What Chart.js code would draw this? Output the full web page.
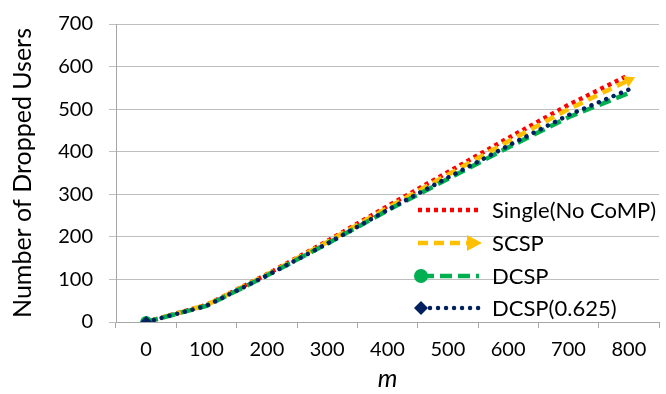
<!DOCTYPE html>
<html>
<head>
<meta charset="utf-8">
<script src="https://cdn.jsdelivr.net/npm/chart.js@4.4.1/dist/chart.umd.min.js"></script>
<style>
  html, body { margin: 0; padding: 0; background: #fff; }
  #wrap { width: 666px; height: 394px; }
</style>
</head>
<body>
<div id="wrap"><canvas id="chart" width="666" height="394"></canvas></div>
<script>
// values
const mLabels = ['0', '100', '200', '300', '400', '500', '600', '700', '800'];
const singleNoComp = [0, 40, 112, 190, 272, 352, 432, 510, 580];
const scsp = [0, 40, 111, 188, 268, 346, 424, 500, 568];
const dcsp = [0, 38, 109, 184, 262, 336, 410, 481, 538];
const dcsp0625 = [0, 38, 109, 184, 263, 339, 414, 486, 546];
const yTicks = [0, 100, 200, 300, 400, 500, 600, 700];

const FONT = 'Lato, "Open Sans", sans-serif';

function firstOnly(arr, r) { return arr.map((v, i) => i === 0 ? r : 0); }
function lastOnly(arr, r) { return arr.map((v, i) => i === arr.length - 1 ? r : 0); }

// legend drawn by hand so the line samples look like the plot lines
const legendPlugin = {
    id: 'sampleLegend',
    afterDraw(chart) {
        const ctx = chart.ctx;
        const x0 = 418, x1 = 479, tx = 492;
        const rows = [210, 243, 276, 308];
        chart.data.datasets.forEach((ds, i) => {
            const y = rows[i];
            ctx.save();
            ctx.strokeStyle = ds.borderColor;
            ctx.lineWidth = ds.borderWidth;
            ctx.lineCap = ds.borderCapStyle || 'butt';
            ctx.setLineDash(ds.borderDash || []);
            ctx.beginPath();
            ctx.moveTo(ds.legendMarker === 'circle' || ds.legendMarker === 'diamond' ? x0 + 4 : x0, y);
            ctx.lineTo(ds.legendMarker === 'arrow' ? x1 - 10 : x1, y);
            ctx.stroke();
            ctx.setLineDash([]);
            ctx.fillStyle = ds.borderColor;
            if (ds.legendMarker === 'circle') {
                ctx.beginPath();
                ctx.arc(x0 + 3, y, 7, 0, Math.PI * 2);
                ctx.fill();
            } else if (ds.legendMarker === 'diamond') {
                ctx.beginPath();
                ctx.moveTo(x0 + 3, y - 7);
                ctx.lineTo(x0 + 10, y);
                ctx.lineTo(x0 + 3, y + 7);
                ctx.lineTo(x0 - 4, y);
                ctx.closePath();
                ctx.fill();
            } else if (ds.legendMarker === 'arrow') {
                ctx.beginPath();
                ctx.moveTo(x1 + 3, y);
                ctx.lineTo(x1 - 12, y - 8);
                ctx.lineTo(x1 - 12, y + 8);
                ctx.closePath();
                ctx.fill();
            }
            ctx.fillStyle = '#000';
            ctx.font = '22px ' + FONT;
            ctx.textAlign = 'left';
            ctx.textBaseline = 'middle';
            ctx.fillText(ds.label, tx, y + 1);
            ctx.restore();
        });
    }
};

new Chart(document.getElementById('chart').getContext('2d'), {
    type: 'line',
    data: {
        labels: mLabels,
        datasets: [
            {
                label: 'Single(No CoMP)',
                data: singleNoComp,
                borderColor: '#ff0000',
                backgroundColor: '#ff0000',
                borderWidth: 4.5,
                borderDash: [4, 4],
                pointRadius: 0,
                order: 4
            },
            {
                label: 'SCSP',
                data: scsp,
                borderColor: '#ffc000',
                backgroundColor: '#ffc000',
                borderWidth: 4.5,
                borderDash: [10, 6],
                pointStyle: 'triangle',
                pointRadius: lastOnly(scsp, 7),
                pointRotation: 65,
                pointBorderWidth: 0,
                legendMarker: 'arrow',
                order: 3
            },
            {
                label: 'DCSP',
                data: dcsp,
                borderColor: '#00b050',
                backgroundColor: '#00b050',
                borderWidth: 4.5,
                borderDash: [12, 6],
                pointStyle: 'circle',
                pointRadius: firstOnly(dcsp, 6),
                pointBorderWidth: 0,
                legendMarker: 'circle',
                order: 2
            },
            {
                label: 'DCSP(0.625)',
                data: dcsp0625,
                borderColor: '#002060',
                backgroundColor: '#002060',
                borderWidth: 4.5,
                borderDash: [0.01, 8],
                borderCapStyle: 'round',
                pointStyle: 'rectRot',
                pointRadius: firstOnly(dcsp0625, 6),
                pointBorderWidth: 0,
                legendMarker: 'diamond',
                order: 1
            }
        ]
    },
    options: {
        responsive: false,
        animation: false,
        events: [],
        layout: { padding: { top: 24, right: 1, left: 0, bottom: 0 } },
        plugins: {
            legend: { display: false },
            tooltip: { enabled: false }
        },
        scales: {
            x: {
                type: 'category',
                offset: true,
                grid: {
                    offset: true,
                    drawOnChartArea: false,
                    drawTicks: true,
                    tickLength: 6,
                    color: '#a6a6a6'
                },
                border: { color: '#a6a6a6' },
                ticks: {
                    color: '#000',
                    font: { family: FONT, size: 20 },
                    padding: 10,
                    maxRotation: 0
                },
                title: {
                    display: true,
                    text: 'm',
                    color: '#000',
                    font: { family: FONT, size: 25, style: 'italic' },
                    padding: { top: 0, bottom: 0 }
                },
                afterFit(scale) {
                    scale.height = 72;
                    scale.paddingLeft = 0;
                    scale.paddingRight = 0;
                }
            },
            y: {
                min: 0,
                max: 700,
                afterBuildTicks(scale) { scale.ticks = yTicks.map(v => ({ value: v })); },
                grid: {
                    color: '#bfbfbf',
                    tickLength: 7,
                    drawTicks: true
                },
                border: { color: '#a6a6a6' },
                ticks: {
                    color: '#000',
                    font: { family: FONT, size: 20 },
                    padding: 16
                },
                title: {
                    display: true,
                    text: 'Number of Dropped Users',
                    color: '#000',
                    font: { family: FONT, size: 25 },
                    padding: { top: 8, bottom: 4 }
                },
                afterFit(scale) {
                    scale.width = 116;
                    scale.paddingTop = 0;
                    scale.paddingBottom = 0;
                }
            }
        }
    },
    plugins: [legendPlugin]
});
</script>
</body>
</html>
